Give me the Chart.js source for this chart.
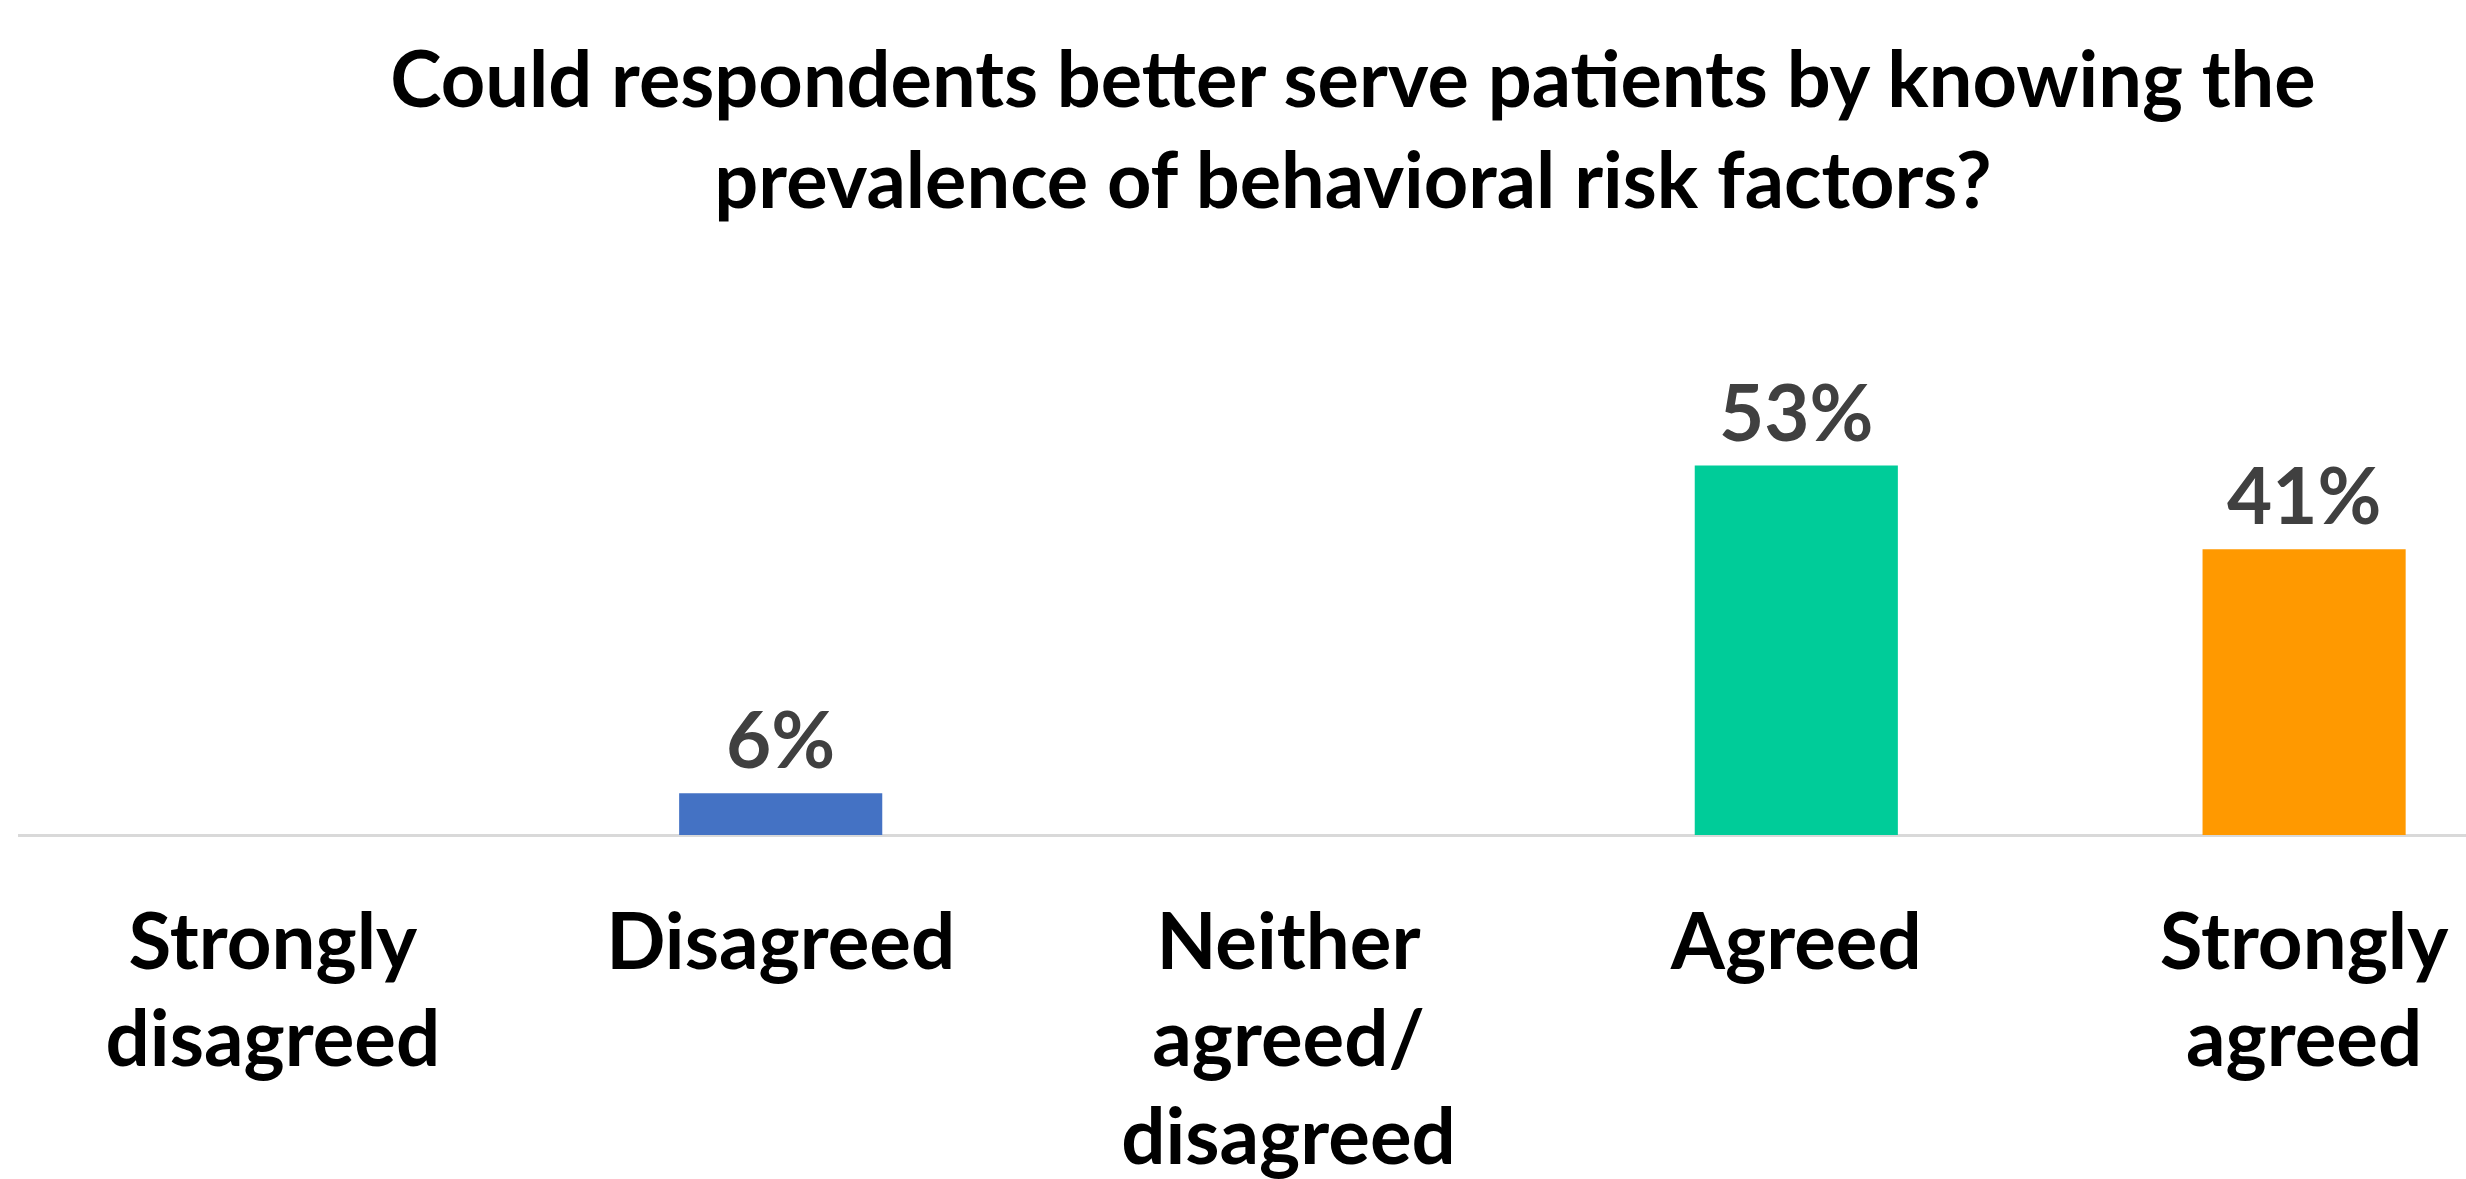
<!DOCTYPE html>
<html>
<head>
<meta charset="utf-8">
<script src="https://cdn.jsdelivr.net/npm/chart.js@4.4.0/dist/chart.umd.min.js"></script>
<style>
    html, body { margin: 0; padding: 0; background: #fff; overflow: hidden; width: 2466px; height: 1179px; }
    #wrap { position: relative; width: 2706px; height: 1200px; }
    #chart-title {
        position: absolute; left: 0; top: 27px; width: 2706px;
        text-align: center; font-family: Lato, sans-serif; font-weight: bold;
        font-size: 77.5px; line-height: 101px; color: #000;
    }
    #mainChart { position: absolute; left: 0; top: 0; }
</style>
</head>
<body>
<div id="wrap">
    <canvas id="mainChart" width="2706" height="1200"></canvas>
    <div id="chart-title">Could respondents better serve patients by knowing the<br>prevalence of behavioral risk factors?</div>
</div>
<script>
const categories = [
    ['Strongly', 'disagreed'],
    ['Disagreed'],
    ['Neither', 'agreed/', 'disagreed'],
    ['Agreed'],
    ['Strongly', 'agreed']
];
const shares = [0, 6, 0, 53, 41];
const barColors = ['#4472C4', '#4472C4', '#A5A5A5', '#00CC99', '#FF9900'];

// value labels on top of the bars, zero bars get none
const valueLabels = {
    id: 'valueLabels',
    afterDatasetsDraw(chart) {
        const ctx = chart.ctx;
        const meta = chart.getDatasetMeta(0);
        ctx.save();
        ctx.font = 'bold 78px Lato, sans-serif';
        ctx.fillStyle = '#404040';
        ctx.textAlign = 'center';
        ctx.textBaseline = 'alphabetic';
        meta.data.forEach((bar, i) => {
            const v = shares[i];
            if (!v) return;
            ctx.fillText(v + '%', bar.x, bar.y - 25);
        });
        ctx.restore();
    }
};

const canvas = document.getElementById('mainChart');
window.surveyChart = new Chart(canvas.getContext('2d'), {
    type: 'bar',
    data: {
        labels: categories,
        datasets: [{
            data: shares,
            backgroundColor: barColors,
            borderWidth: 0,
            categoryPercentage: 1,
            barPercentage: 0.4
        }]
    },
    options: {
        responsive: false,
        animation: false,
        layout: { padding: { top: 347, left: 19, right: 148, bottom: 0 } },
        plugins: { legend: { display: false }, title: { display: false }, tooltip: { enabled: false } },
        scales: {
            x: {
                grid: { display: false, drawTicks: false },
                border: { display: true, color: '#D9D9D9', width: 3 },
                ticks: {
                    color: '#000',
                    padding: 60,
                    maxRotation: 0,
                    autoSkip: false,
                    font: { family: 'Lato, sans-serif', weight: 'bold', size: 78, lineHeight: 1.25 }
                },
                afterFit: (scale) => { scale.height = 365; }
            },
            y: { display: false, min: 0, max: 70 }
        }
    },
    plugins: [valueLabels]
});
</script>
</body>
</html>
